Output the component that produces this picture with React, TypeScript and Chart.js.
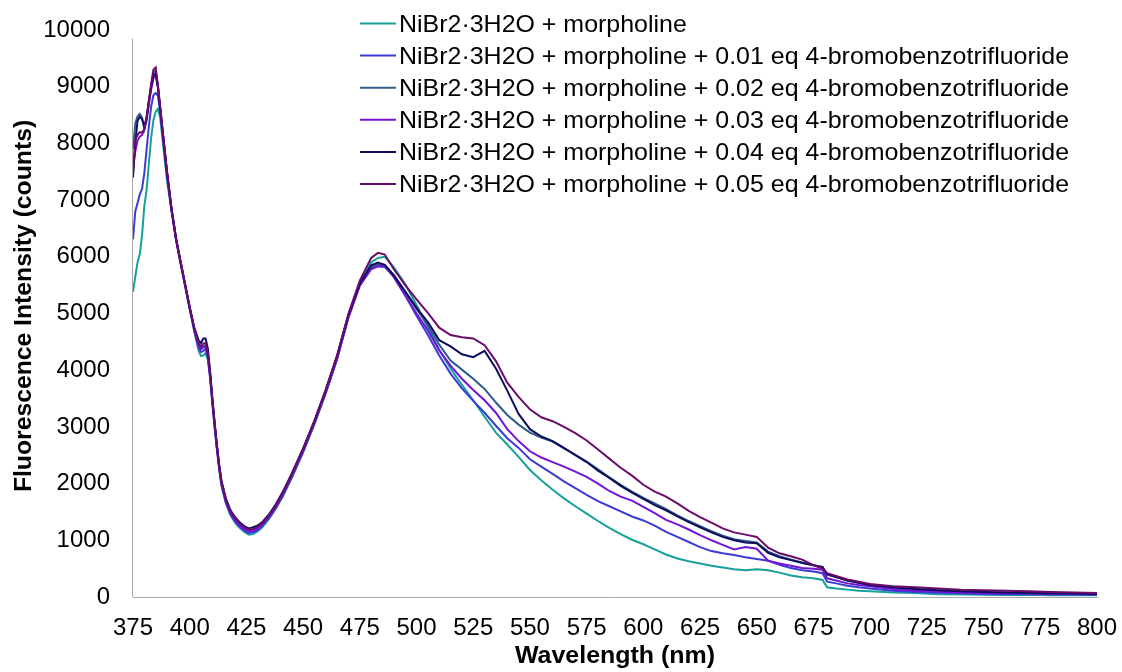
import React, { useEffect, useRef } from "react";
import { Chart, registerables } from "chart.js";

Chart.register(...registerables);

// Wavelength (nm) sampling points shared by all series
const wavelengths = [
  375, 376, 377, 378, 379, 380, 381, 382, 383, 384, 385, 386, 387, 388, 389, 390,
  392, 394, 396, 398, 400, 402, 404,
  405, 406, 407, 408, 409, 410, 411, 412, 413, 414,
  416, 418, 420, 422, 424, 426, 428, 430, 432,
  435, 438, 441, 445,
  450, 455, 460, 465, 470, 475, 480,
  483, 486, 490, 495,
  500, 505, 510, 515, 520, 525, 530, 535, 540, 545,
  550, 555, 560, 565, 570, 575, 580, 585, 590, 595,
  600, 605, 610, 615, 620, 625, 630, 635, 640, 645,
  650, 655, 660, 665, 670, 675,
  679, 681, 685, 690, 695,
  700, 710, 720, 730, 740, 750, 760, 770, 780, 790, 800,
];

const seriesLabels = [
  "NiBr2·3H2O + morpholine",
  "NiBr2·3H2O + morpholine + 0.01 eq 4-bromobenzotrifluoride",
  "NiBr2·3H2O + morpholine + 0.02 eq 4-bromobenzotrifluoride",
  "NiBr2·3H2O + morpholine + 0.03 eq 4-bromobenzotrifluoride",
  "NiBr2·3H2O + morpholine + 0.04 eq 4-bromobenzotrifluoride",
  "NiBr2·3H2O + morpholine + 0.05 eq 4-bromobenzotrifluoride",
];

const seriesColors = ["#17a09a", "#3b3bd6", "#2e5d88", "#7414d6", "#0d0d5e", "#6b0c6b"];

const eq000 = [
  5380, 5650, 5900, 6050, 6380, 6900, 7180, 7650, 8100, 8410, 8560, 8610, 8450, 8080, 7700, 7350,
  6800, 6300, 5880, 5470, 5070, 4680, 4330,
  4250, 4260, 4300, 4180, 3850, 3400, 2980, 2600, 2250, 1960,
  1640, 1440, 1310, 1220, 1150, 1100, 1110, 1160, 1230,
  1380, 1560, 1770, 2100,
  2550, 3050, 3600, 4200, 4950, 5550, 5900,
  5980, 6000, 5820, 5520,
  5150, 4750, 4360, 4030, 3740, 3470, 3180, 2900, 2690, 2470,
  2240, 2060, 1890, 1740, 1600, 1470, 1340, 1220, 1110, 1010,
  930, 840, 750, 680, 630, 590, 550, 520, 490, 470,
  490, 470, 430, 380, 350, 330,
  300, 170, 150, 130, 110,
  100, 80, 70, 50, 45, 40, 35, 40, 30, 35, 30,
];

const eq001 = [
  6310, 6800, 6950, 7100, 7200, 7480, 7900, 8300, 8650, 8850, 8890, 8840, 8550, 8150, 7800, 7420,
  6820, 6300, 5890, 5490, 5090, 4710, 4380,
  4320, 4340, 4380, 4230, 3880, 3430, 3000, 2620, 2270, 1980,
  1660, 1460, 1330, 1240, 1170, 1130, 1140, 1180, 1250,
  1390, 1570, 1780, 2110,
  2560, 3060, 3600, 4200, 4930, 5500, 5780,
  5830, 5820, 5650, 5320,
  4960, 4620, 4260, 3940, 3680, 3460, 3250, 3020, 2800, 2630,
  2430, 2300, 2170, 2040, 1920, 1800, 1690, 1600, 1510, 1420,
  1350, 1260, 1150, 1060, 970, 880, 810, 770, 740, 700,
  670, 640, 570, 510, 470, 450,
  420, 270, 240, 200, 170,
  150, 110, 90, 75, 65, 55, 50, 50, 45, 45, 40,
];

const eq002 = [
  7900, 8350, 8480, 8520, 8450, 8250, 8400, 8700, 9000, 9250, 9280, 9000, 8620, 8230, 7860, 7480,
  6830, 6310, 5900, 5500, 5100, 4730, 4430,
  4380, 4420, 4440, 4280, 3920, 3460, 3040, 2650, 2300, 2010,
  1690, 1490, 1370, 1280, 1210, 1170, 1180, 1220, 1290,
  1430, 1610, 1820, 2150,
  2600, 3100, 3650, 4250, 4970, 5520, 5820,
  5870, 5850, 5680, 5380,
  5080, 4790, 4450, 4170, 4010, 3850, 3670, 3430, 3210, 3040,
  2900, 2810, 2740, 2620, 2510, 2390, 2250, 2110, 1980, 1860,
  1750, 1650, 1550, 1440, 1340, 1250, 1160, 1080, 1020, 990,
  960, 800, 720, 660, 610, 560,
  520, 400, 350, 290, 250,
  215, 170, 140, 120, 100, 90, 80, 75, 65, 60, 55,
];

const eq003 = [
  7600, 7850, 8050, 8120, 8150, 8250, 8450, 8700, 8950, 9150, 9200, 8980, 8600, 8220, 7850, 7470,
  6820, 6300, 5890, 5500, 5100, 4720, 4420,
  4370, 4400, 4420, 4260, 3900, 3450, 3030, 2640, 2290, 2000,
  1680, 1480, 1360, 1270, 1200, 1160, 1170, 1210, 1280,
  1420, 1600, 1810, 2140,
  2580, 3080, 3620, 4220, 4940, 5490, 5790,
  5840, 5850, 5640, 5320,
  5000, 4700, 4350, 4080, 3850, 3650, 3470, 3250, 2960, 2750,
  2570, 2460, 2380, 2300, 2210, 2120, 2000, 1870, 1770, 1700,
  1590, 1480, 1360, 1280, 1190, 1090, 1000, 920, 840, 880,
  850, 640, 590, 550, 510, 500,
  480, 330, 290, 240, 210,
  190, 140, 110, 95, 80, 70, 65, 60, 55, 55, 50,
];

const eq004 = [
  7400, 8000, 8400, 8470, 8430, 8300, 8450, 8750, 9000, 9200, 9230, 8990, 8620, 8240, 7870, 7490,
  6840, 6320, 5910, 5510, 5110, 4750, 4520,
  4480, 4560, 4560, 4380, 3980, 3500, 3070, 2680, 2330, 2050,
  1730, 1530, 1410, 1320, 1250, 1210, 1230, 1260, 1320,
  1460, 1640, 1850, 2180,
  2620, 3110, 3660, 4260, 4980, 5530, 5850,
  5900, 5860, 5670, 5390,
  5100, 4850, 4530, 4420, 4280, 4230, 4340, 4030, 3640, 3230,
  2960, 2830, 2750, 2630, 2500, 2380, 2230, 2100, 1960, 1840,
  1730, 1620, 1530, 1420, 1320, 1230, 1140, 1060, 1000, 960,
  950, 780, 700, 650, 600, 560,
  530, 400, 350, 290, 250,
  210, 170, 140, 120, 100, 90, 80, 70, 65, 60, 55,
];

const eq005 = [
  7450, 8060, 8150, 8200, 8190, 8250, 8470, 8750, 9050, 9300, 9340, 9020, 8640, 8250, 7880, 7500,
  6850, 6320, 5910, 5510, 5110, 4740, 4470,
  4420, 4470, 4480, 4300, 3930, 3470, 3050, 2660, 2310, 2030,
  1710, 1510, 1390, 1300, 1230, 1190, 1200, 1240, 1300,
  1440, 1620, 1830, 2160,
  2610, 3100, 3650, 4260, 5000, 5580, 5980,
  6070, 6040, 5780, 5500,
  5250, 5010, 4750, 4620, 4580, 4560, 4440, 4160, 3780, 3530,
  3310, 3170, 3100, 3000, 2890, 2760, 2600, 2440, 2280, 2140,
  1980, 1860, 1770, 1650, 1520, 1410, 1310, 1210, 1140, 1100,
  1060, 870, 770, 720, 660, 560,
  500, 420, 370, 310, 270,
  230, 190, 170, 150, 130, 120, 110, 100, 90, 80, 70,
];

const seriesValues = [eq000, eq001, eq002, eq003, eq004, eq005];

const xTitle = "Wavelength (nm)";
const yTitle = "Fluorescence Intensity (counts)";

const FONT = "'Liberation Sans', Arial, sans-serif";
const AXIS_GRAY = "#a8a8a8";
const STRETCH = 1.04;

export default function App() {
  const canvasRef = useRef<HTMLCanvasElement | null>(null);

  useEffect(() => {
    const canvas = canvasRef.current;
    if (!canvas) return;

    const overlay = {
      id: "overlay",
      beforeDatasetsDraw(chart: any) {
        // vertical axis line (starts a little below the top of the value range)
        const ctx = chart.ctx as CanvasRenderingContext2D;
        const ys = chart.scales.y;
        const xs = chart.scales.x;
        ctx.save();
        ctx.strokeStyle = AXIS_GRAY;
        ctx.lineWidth = 1;
        ctx.beginPath();
        const x0 = Math.round(xs.getPixelForValue(375)) - 0.5;
        ctx.moveTo(x0, ys.getPixelForValue(9850));
        ctx.lineTo(x0, ys.getPixelForValue(0));
        ctx.stroke();
        ctx.restore();
      },
      afterDraw(chart: any) {
        const ctx = chart.ctx as CanvasRenderingContext2D;
        ctx.save();
        // legend
        ctx.font = `24px ${FONT}`;
        ctx.textBaseline = "alphabetic";
        ctx.textAlign = "left";
        seriesLabels.forEach((label, i) => {
          const y = 23.5 + i * 32.1;
          ctx.strokeStyle = seriesColors[i];
          ctx.lineWidth = 2;
          ctx.beginPath();
          ctx.moveTo(360, y);
          ctx.lineTo(396, y);
          ctx.stroke();
          ctx.fillStyle = "#000";
          ctx.save();
          ctx.translate(399, 31.8 + i * 32.1);
          ctx.scale(STRETCH, 1);
          ctx.fillText(label, 0, 0);
          ctx.restore();
        });
        // axis titles
        ctx.font = `bold 24px ${FONT}`;
        ctx.textAlign = "center";
        ctx.textBaseline = "alphabetic";
        ctx.fillStyle = "#000";
        ctx.save();
        ctx.translate(615, 663);
        ctx.scale(STRETCH, 1);
        ctx.fillText(xTitle, 0, 0);
        ctx.restore();
        ctx.save();
        ctx.translate(30.5, 306);
        ctx.rotate(-Math.PI / 2);
        ctx.scale(1.03, 1);
        ctx.fillText(yTitle, 0, 0);
        ctx.restore();
        ctx.restore();
      },
    };

    const chart = new Chart(canvas, {
      type: "line",
      data: {
        datasets: seriesValues.map((vals, i) => ({
          label: seriesLabels[i],
          data: vals.map((v, j) => ({ x: wavelengths[j], y: v })),
          borderColor: seriesColors[i],
          backgroundColor: seriesColors[i],
          borderWidth: 2,
          pointRadius: 0,
          tension: 0,
          fill: false,
          order: seriesValues.length - 1 - i,
        })),
      },
      options: {
        responsive: false,
        animation: false,
        layout: { padding: { left: 0, top: 30, right: 25, bottom: 0 } },
        plugins: {
          legend: { display: false },
          tooltip: { enabled: false },
          title: { display: false },
        },
        scales: {
          x: {
            type: "linear",
            min: 375,
            max: 800,
            grid: { display: false },
            border: { display: true, color: AXIS_GRAY, width: 1 },
            ticks: {
              stepSize: 25,
              color: "#000",
              padding: 9,
              maxRotation: 0,
              autoSkip: false,
              font: { family: FONT, size: 24 },
            },
            afterFit: (scale: any) => {
              scale.height = 75;
              scale.paddingLeft = 0;
              scale.paddingRight = 0;
            },
          },
          y: {
            type: "linear",
            min: 0,
            max: 10000,
            grid: { display: false },
            border: { display: false },
            ticks: {
              stepSize: 1000,
              color: "#000",
              padding: 15,
              font: { family: FONT, size: 24 },
              callback: (v: any) => String(v),
            },
            afterFit: (scale: any) => {
              scale.width = 133;
              scale.paddingTop = 0;
              scale.paddingBottom = 0;
            },
          },
        },
      },
      plugins: [overlay],
    });

    return () => chart.destroy();
  }, []);

  return (
    <div style={{ position: "fixed", left: 0, top: 0, width: 1122, height: 672, background: "#fff" }}>
      <canvas ref={canvasRef} width={1122} height={672} style={{ display: "block" }} />
    </div>
  );
}
